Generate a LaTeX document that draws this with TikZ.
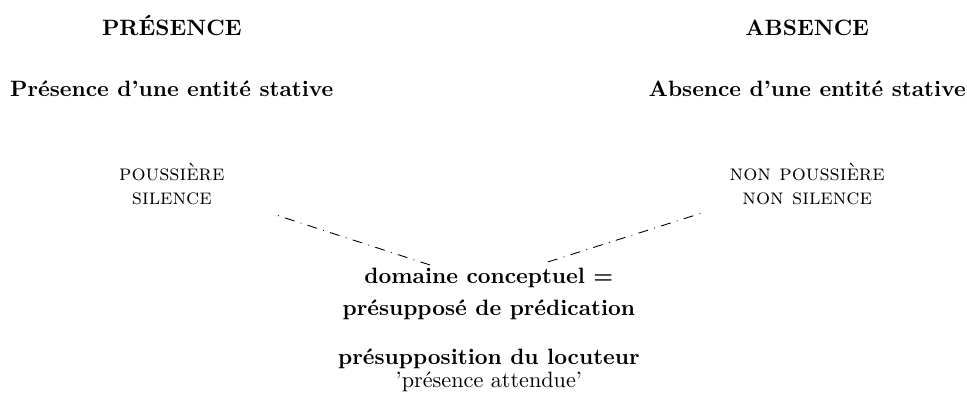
\documentclass[tikz,border=0pt]{standalone}
\usepackage{tikz}
\usetikzlibrary{positioning}
\tikzset{head/.style={font=\bfseries,anchor=base,inner sep=0pt},
         word/.style={align=center,anchor=base,inner sep=0pt},
         dd/.style={line width=0.4pt,dash pattern=on 4.5pt off 2.9pt on 0.4pt off 2.9pt}}

\begin{document}
\begin{tikzpicture}
        \useasboundingbox (0,0) rectangle (15.31,-6.25);

        \node[head] (pres) at (2.72,-0.554) {PRÉSENCE};
        \node[head] (abs) at (12.78,-0.554) {ABSENCE};
        \node[head] (pent) at (2.72,-1.52) {Présence d'une entité stative};
        \node[head] (aent) at (12.78,-1.52) {Absence d'une entité stative};
        \node[word] (pous) at (2.72,-3.244) {\textsc{poussière}\\[-1.2pt]\textsc{silence}};
        \node[word] (npous) at (12.78,-3.244) {\textsc{non poussière}\\[-1.2pt]\textsc{non silence}};
        \node[word,font=\bfseries] (dom) at (7.74,-5.0) {domaine conceptuel =\\[2.6pt] présupposé de prédication};
        \node[word] (loc) at (7.74,-6.14) {\textbf{présupposition du locuteur}\\[-1.4pt]'présence attendue'};

        \coordinate (l1) at (6.807,-4.195);
        \coordinate (l2) at (4.322,-3.388);
        \coordinate (r1) at (8.675,-4.147);
        \coordinate (r2) at (11.113,-3.372);

        \draw [dd] (l1) -- (l2);
        \draw [dd] (r1) -- (r2);
    \end{tikzpicture}
\end{document}
